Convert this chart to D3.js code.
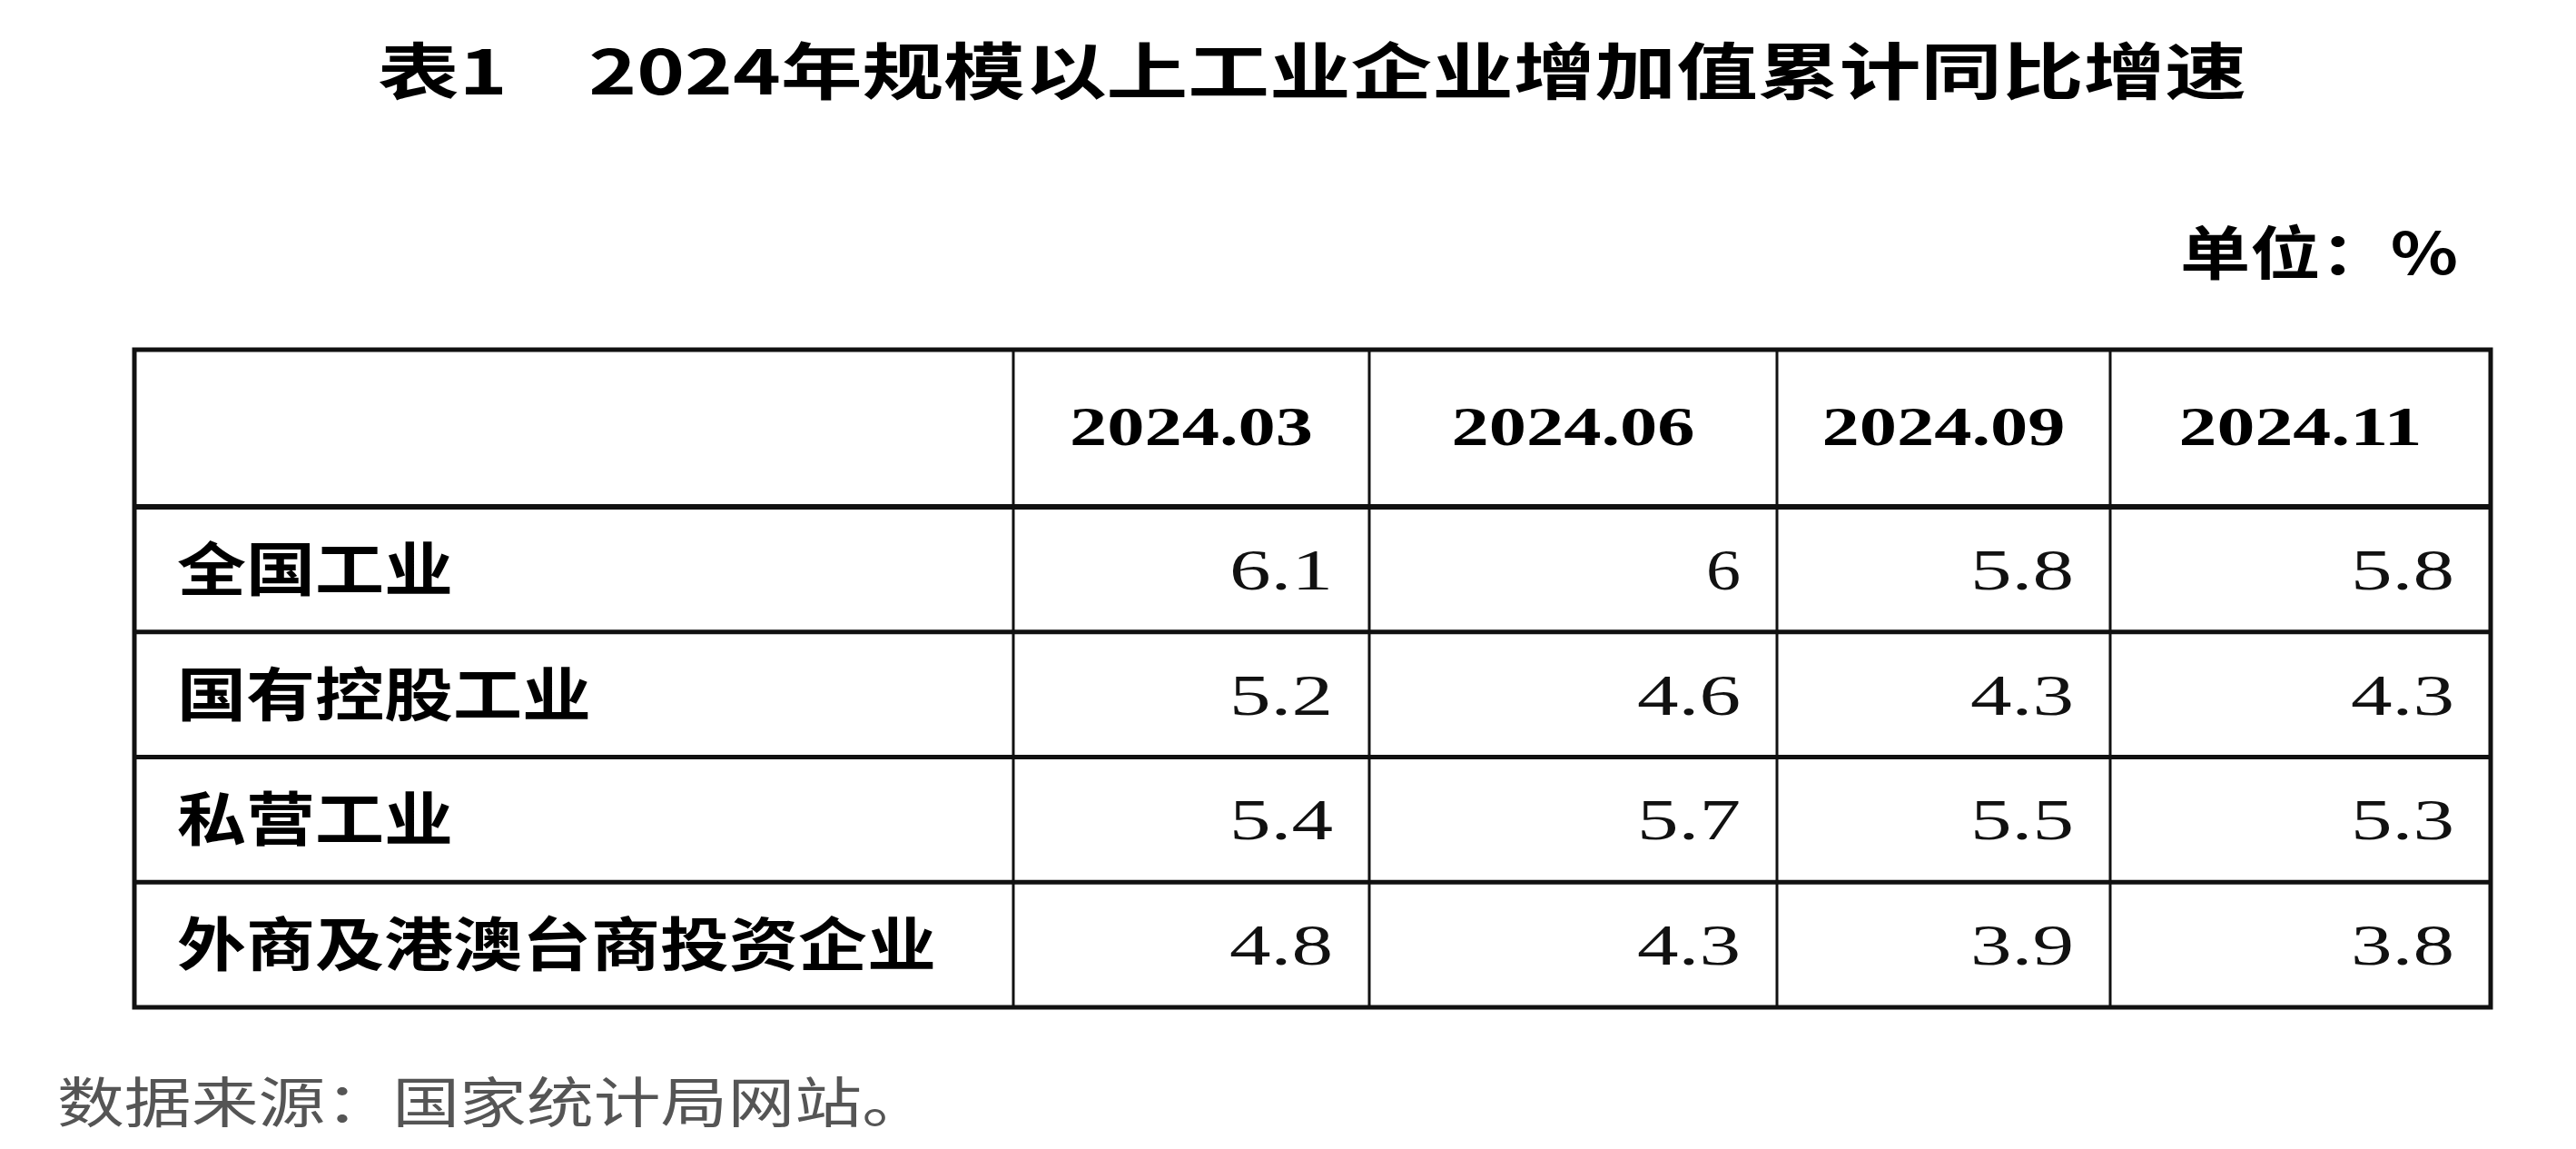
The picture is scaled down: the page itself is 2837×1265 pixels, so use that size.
<!DOCTYPE html>
<html><head><meta charset="utf-8">
<script src="https://cdn.jsdelivr.net/npm/d3@7"></script>
<style>body{margin:0;background:#fff}</style>
</head><body><div id="container"></div>
<script>
const width = 2837, height = 1265;

const periods = ["2024.03", "2024.06", "2024.09", "2024.11"];
const sectors = ["全国工业", "国有控股工业", "私营工业", "外商及港澳台商投资企业"];
const national = ["6.1", "6", "5.8", "5.8"];
const stateOwned = ["5.2", "4.6", "4.3", "4.3"];
const privateInd = ["5.4", "5.7", "5.5", "5.3"];
const foreignInd = ["4.8", "4.3", "3.9", "3.8"];
const title = "表1　2024年规模以上工业企业增加值累计同比增速";
const unit = "单位：%";
const source = "数据来源：国家统计局网站。";

const values = [national, stateOwned, privateInd, foreignInd];

// layout
const colEdges = [148, 1116, 1508, 1957, 2324, 2743];
const tableTop = 385, headBottom = 558, tableBottom = 1109;
const cjk = "'Noto Sans CJK SC', sans-serif";
const num = "'Liberation Serif', serif";

const yScale = d3.scaleBand().domain(sectors).range([headBottom, tableBottom]);
const xEdge = i => colEdges[i];

const svg = d3.select("#container").append("svg")
  .attr("width", width).attr("height", height);

svg.append("text")
  .attr("x", 416).attr("y", 104)
  .attr("textLength", 2058).attr("lengthAdjust", "spacingAndGlyphs")
  .attr("font-family", cjk).attr("font-weight", 700).attr("font-size", 68)
  .text(title);

svg.append("text")
  .attr("x", 2707).attr("y", 302).attr("text-anchor", "end")
  .attr("textLength", 306).attr("lengthAdjust", "spacingAndGlyphs")
  .attr("font-family", cjk).attr("font-weight", 700).attr("font-size", 64)
  .text(unit);

// grid
const g = svg.append("g").attr("stroke", "#111");
g.append("rect").attr("x", colEdges[0]).attr("y", tableTop)
  .attr("width", colEdges[5] - colEdges[0]).attr("height", tableBottom - tableTop)
  .attr("fill", "none").attr("stroke-width", 5);
g.selectAll("line.h").data(sectors).join("line").attr("class", "h")
  .attr("x1", colEdges[0]).attr("x2", colEdges[5])
  .attr("y1", d => yScale(d)).attr("y2", d => yScale(d))
  .attr("stroke-width", d => d === sectors[0] ? 6 : 5);
g.selectAll("line.v").data(periods).join("line").attr("class", "v")
  .attr("x1", (d, i) => xEdge(i + 1)).attr("x2", (d, i) => xEdge(i + 1))
  .attr("y1", tableTop).attr("y2", tableBottom).attr("stroke-width", 3);

// header
svg.selectAll("text.head").data(periods).join("text").attr("class", "head")
  .attr("x", (d, i) => (xEdge(i + 1) + xEdge(i + 2)) / 2)
  .attr("y", 490).attr("text-anchor", "middle")
  .attr("textLength", 268).attr("lengthAdjust", "spacingAndGlyphs")
  .attr("font-family", num).attr("font-weight", 700).attr("font-size", 62)
  .text(d => d);

// row labels
const labelWidth = d => d.length * 76;
svg.selectAll("text.label").data(sectors).join("text").attr("class", "label")
  .attr("x", 195).attr("y", d => yScale(d) + yScale.bandwidth() / 2 + 23)
  .attr("textLength", labelWidth).attr("lengthAdjust", "spacingAndGlyphs")
  .attr("font-family", cjk).attr("font-weight", 700).attr("font-size", 64)
  .text(d => d);

// values
sectors.forEach((s, r) => {
  svg.selectAll(null).data(values[r]).join("text")
    .attr("x", (d, i) => xEdge(i + 2) - 40)
    .attr("y", yScale(s) + yScale.bandwidth() / 2 + 22)
    .attr("text-anchor", "end")
    .attr("textLength", d => d.length * 38).attr("lengthAdjust", "spacingAndGlyphs")
    .attr("font-family", num).attr("font-size", 64).attr("fill", "#111")
    .text(d => d);
});

svg.append("text")
  .attr("x", 63).attr("y", 1236)
  .attr("textLength", 960).attr("lengthAdjust", "spacingAndGlyphs")
  .attr("font-family", cjk).attr("font-size", 60).attr("fill", "#555")
  .text(source);
</script></body></html>
